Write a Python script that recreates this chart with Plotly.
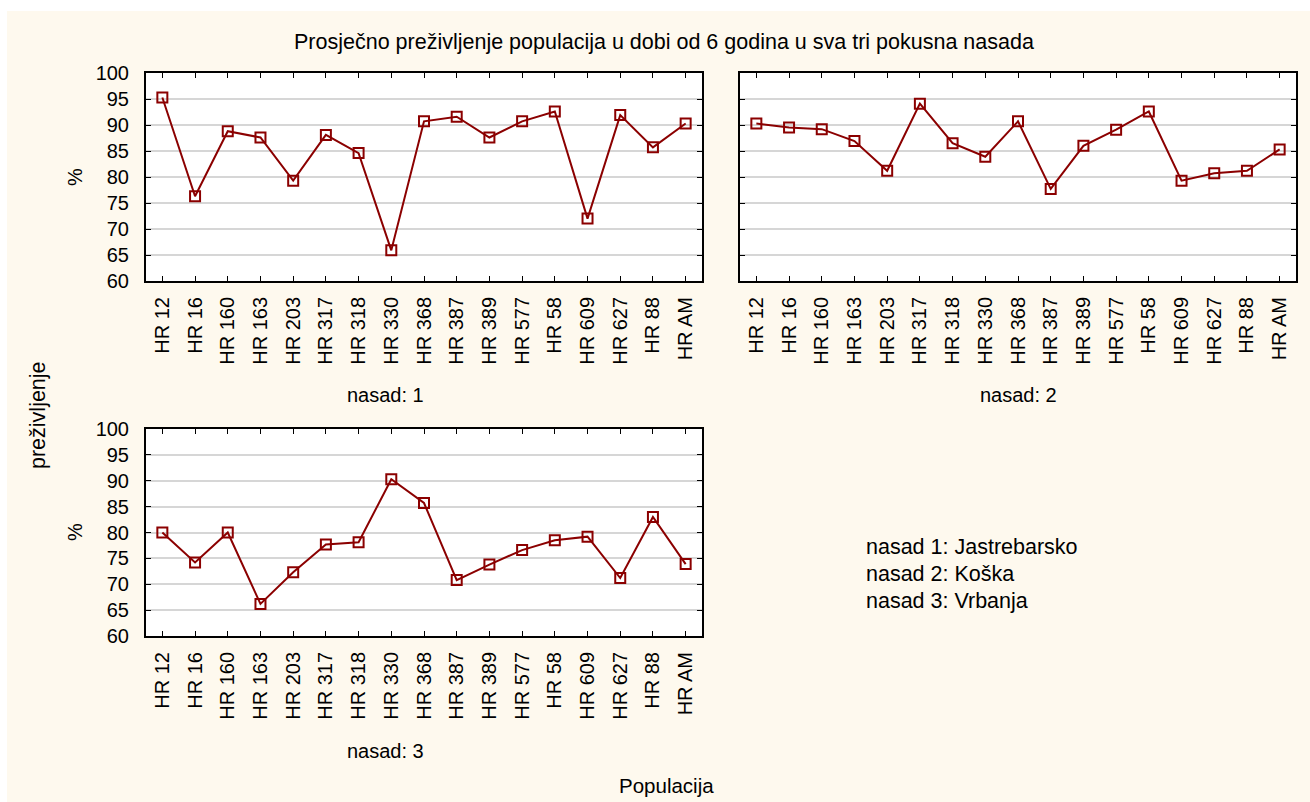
import plotly.graph_objects as go

W, H = 1310, 802

categories = ["HR 12", "HR 16", "HR 160", "HR 163", "HR 203", "HR 317", "HR 318", "HR 330",
              "HR 368", "HR 387", "HR 389", "HR 577", "HR 58", "HR 609", "HR 627", "HR 88", "HR AM"]

nasad1 = [95.3, 76.3, 88.8, 87.6, 79.3, 88.1, 84.6, 65.9, 90.7, 91.6, 87.6, 90.7, 92.6, 72.0, 91.9, 85.7, 90.3]
nasad2 = [90.3, 89.5, 89.2, 86.9, 81.2, 94.1, 86.5, 83.9, 90.7, 77.7, 86.0, 89.1, 92.6, 79.3, 80.7, 81.2, 85.3]
nasad3 = [80.0, 74.2, 80.0, 66.2, 72.3, 77.7, 78.1, 90.3, 85.7, 70.8, 73.8, 76.6, 78.5, 79.2, 71.2, 83.0, 73.9]

y_ticks = [60, 65, 70, 75, 80, 85, 90, 95, 100]

title_text = "Prosječno preživljenje populacija u dobi od 6 godina u sva tri pokusna nasada"
panel_labels = ["nasad: 1", "nasad: 2", "nasad: 3"]
legend_lines = ["nasad 1: Jastrebarsko", "nasad 2: Koška", "nasad 3: Vrbanja"]

FONT = "Arial, 'Liberation Sans', sans-serif"
RED = "#8b0000"
CREAM = "#fef9ee"

def px(x):
    return x / W

def py(y):
    return 1 - y / H

# panel pixel boxes: (left, right, top, bottom)
boxes = [(146, 702, 73, 281), (740, 1296, 73, 281), (146, 702, 429, 636)]
series = [nasad1, nasad2, nasad3]

fig = go.Figure()
layout = dict(
    width=W, height=H,
    margin=dict(l=0, r=0, t=0, b=0),
    paper_bgcolor=CREAM,
    plot_bgcolor="white",
    showlegend=False,
    font=dict(family=FONT, size=20, color="black"),
)

for i, (vals, box) in enumerate(zip(series, boxes)):
    n = "" if i == 0 else str(i + 1)
    fig.add_trace(go.Scatter(
        x=categories, y=vals, mode="lines+markers",
        xaxis="x" + n, yaxis="y" + n,
        line=dict(color=RED, width=2),
        marker=dict(symbol="square-open", size=10, color=RED, line=dict(color=RED, width=2)),
        hoverinfo="x+y",
    ))
    l, r, t, b = box
    layout["xaxis" + n] = dict(
        domain=[px(l), px(r)], anchor="y" + n,
        type="category", categoryorder="array", categoryarray=categories,
        range=[-0.5, len(categories) - 0.5],
        showline=True, linecolor="black", linewidth=2, mirror="ticks",
        ticks="inside", ticklen=5, tickwidth=1, tickcolor="black",
        tickangle=-90, tickfont=dict(size=20, family=FONT),
        showgrid=False, zeroline=False, automargin=False,
        ticklabelstandoff=6,
    )
    layout["yaxis" + n] = dict(
        domain=[py(b), py(t)], anchor="x" + n,
        range=[60, 100], tickvals=y_ticks, ticktext=[str(v) for v in y_ticks],
        showticklabels=(i != 1),
        showline=True, linecolor="black", linewidth=2, mirror="ticks",
        ticks="inside", ticklen=5, tickwidth=1, tickcolor="black",
        tickfont=dict(size=20, family=FONT),
        showgrid=True, gridcolor="#d6d6d6", gridwidth=2, zeroline=False,
        automargin=False, ticklabelstandoff=11,
    )

annotations = [
    dict(text=title_text, x=px(664), y=py(42), font=dict(size=21.5)),
    dict(text="Populacija", x=px(666), y=py(785), font=dict(size=20.5)),
    dict(text="preživljenje", x=px(38), y=py(415), textangle=-90, font=dict(size=21.5)),
    dict(text="%", x=px(75), y=py(177), textangle=-90, font=dict(size=20)),
    dict(text="%", x=px(75), y=py(532), textangle=-90, font=dict(size=20)),
    dict(text=panel_labels[0], x=px(385), y=py(395), font=dict(size=20)),
    dict(text=panel_labels[1], x=px(1018), y=py(395), font=dict(size=20)),
    dict(text=panel_labels[2], x=px(385), y=py(751), font=dict(size=20)),
]
for k, line in enumerate(legend_lines):
    annotations.append(dict(text=line, x=px(864), y=py(547 + 27 * k), xanchor="left", font=dict(size=21.5)))

for a in annotations:
    a.setdefault("xanchor", "center")
    a.update(xref="paper", yref="paper", yanchor="middle", showarrow=False)
    a["font"].setdefault("family", FONT)
    a["font"].setdefault("color", "black")

layout["annotations"] = annotations
layout["shapes"] = [
    dict(type="rect", xref="paper", yref="paper", x0=0, x1=px(7), y0=0, y1=1,
         fillcolor="white", line=dict(width=0), layer="above"),
    dict(type="rect", xref="paper", yref="paper", x0=0, x1=1, y0=py(11), y1=1,
         fillcolor="white", line=dict(width=0), layer="above"),
]

fig.update_layout(**layout)
fig.write_html("out.html",
               config={"displayModeBar": False},
               post_script="document.body.style.margin='0';document.body.style.overflow='hidden';")
